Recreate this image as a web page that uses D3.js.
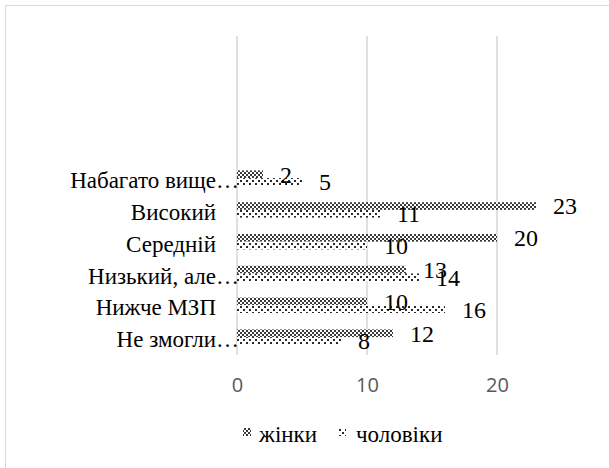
<!DOCTYPE html>
<html><head><meta charset="utf-8">
<script src="https://cdn.jsdelivr.net/npm/d3@7"></script>
</head><body style="margin:0">
<svg id="chart" width="609" height="468"></svg>
<script>
// Categories listed bottom-to-top, as plotted
const categories = ["Не змогли…", "Нижче МЗП", "Низький, але…", "Середній", "Високий", "Набагато вище…"];
const slotCount = 10; // category axis holds ten slots, the upper four stay empty
const seriesNames = ["жінки", "чоловіки"];
const women = [12, 10, 13, 20, 23, 2];
const men = [8, 16, 14, 10, 11, 5];
const xTicks = [0, 10, 20];
const xMax = 25;

const svg = d3.select("#chart");
const SERIF = "\"Liberation Serif\"";

function serifText(sel, size) {
  return sel.style("font-family", SERIF, "important").style("font-size", size + "px");
}

// Fill patterns for the two series
const defs = svg.append("defs");
const checker = defs.append("pattern")
  .attr("id", "pat-women").attr("patternUnits", "userSpaceOnUse")
  .attr("width", 4).attr("height", 4);
checker.append("rect").attr("width", 4).attr("height", 4).attr("fill", "#fff");
checker.append("rect").attr("x", 0).attr("y", 0).attr("width", 2).attr("height", 2).attr("fill", "#3a3a3a");
checker.append("rect").attr("x", 2).attr("y", 2).attr("width", 2).attr("height", 2).attr("fill", "#3a3a3a");

const dots = defs.append("pattern")
  .attr("id", "pat-men").attr("patternUnits", "userSpaceOnUse")
  .attr("width", 6).attr("height", 6);
dots.append("rect").attr("width", 6).attr("height", 6).attr("fill", "#fff");
dots.append("rect").attr("x", 0).attr("y", 0).attr("width", 2).attr("height", 2).attr("fill", "#2a2a2a");
dots.append("rect").attr("x", 3).attr("y", 3).attr("width", 2).attr("height", 2).attr("fill", "#2a2a2a");

const fills = ["url(#pat-women)", "url(#pat-men)"];

// Chart area frame
svg.append("rect")
  .attr("x", 5.5).attr("y", 5.5).attr("width", 640).attr("height", 500)
  .attr("fill", "none").attr("stroke", "#d9d9d9").attr("stroke-width", 1);

const x = d3.scaleLinear().domain([0, xMax]).range([237, 562]);
const y = d3.scaleBand().domain(d3.range(slotCount)).range([353, 35]).paddingInner(0);
const barH = 7.7;

// Vertical gridlines
svg.append("g").selectAll("line").data(xTicks).join("line")
  .attr("x1", d => x(d)).attr("x2", d => x(d))
  .attr("y1", 36).attr("y2", 355)
  .attr("stroke", "#d9d9d9").attr("stroke-width", 1.6);

// Value axis tick labels
const xAxis = d3.axisBottom(x).tickValues(xTicks).tickSize(0).tickPadding(0).tickFormat(d3.format("d"));
const gx = svg.append("g").attr("transform", "translate(0,378)").call(xAxis);
gx.select(".domain").remove();
gx.selectAll("text")
  .attr("fill", "#595959")
  .attr("dy", "0.71em")
  .style("font-family", "\"Open Sans\"")
  .style("font-size", "20px");

// Bars
const rows = categories.map((c, i) => ({ i, values: [women[i], men[i]] }));
const groups = svg.append("g").selectAll("g").data(rows).join("g");
groups.each(function (r) {
  const c = y(r.i) + y.bandwidth() / 2;
  const g = d3.select(this);
  r.values.forEach((v, s) => {
    const top = s === 0 ? c - barH : c;
    g.append("rect")
      .attr("x", x(0)).attr("y", top)
      .attr("width", x(v) - x(0)).attr("height", barH)
      .attr("fill", fills[s]);
  });
});

// Data labels
groups.each(function (r) {
  const c = y(r.i) + y.bandwidth() / 2;
  const g = d3.select(this);
  r.values.forEach((v, s) => {
    const mid = s === 0 ? c - barH / 2 : c + barH / 2;
    serifText(g.append("text"), 24)
      .attr("x", x(v) + 17).attr("y", mid).attr("dy", "0.35em")
      .attr("fill", "#000")
      .text(v);
  });
});

// Category labels (truncated names keep their ellipsis past the text edge)
const labelRight = 216;
const gl = svg.append("g");
categories.forEach((name, i) => {
  const c = y(i) + y.bandwidth() / 2;
  const truncated = name.endsWith("…");
  const base = truncated ? name.slice(0, -1) : name;
  serifText(gl.append("text"), 23)
    .attr("x", labelRight).attr("y", c + 10)
    .attr("text-anchor", "end")
    .attr("fill", "#000")
    .text(base);
  if (truncated) {
    serifText(gl.append("text"), 23)
      .attr("x", labelRight).attr("y", c + 10)
      .attr("fill", "#000")
      .text("…");
  }
});

// Legend
const legendItems = [{ sx: 243, tx: 259 }, { sx: 338, tx: 356 }];
const lg = svg.append("g");
seriesNames.forEach((name, s) => {
  lg.append("rect")
    .attr("x", legendItems[s].sx).attr("y", 428)
    .attr("width", 8).attr("height", 8)
    .attr("fill", fills[s]);
  serifText(lg.append("text"), 23)
    .attr("x", legendItems[s].tx).attr("y", 442)
    .attr("fill", "#000")
    .text(name);
});
</script>
</body></html>
